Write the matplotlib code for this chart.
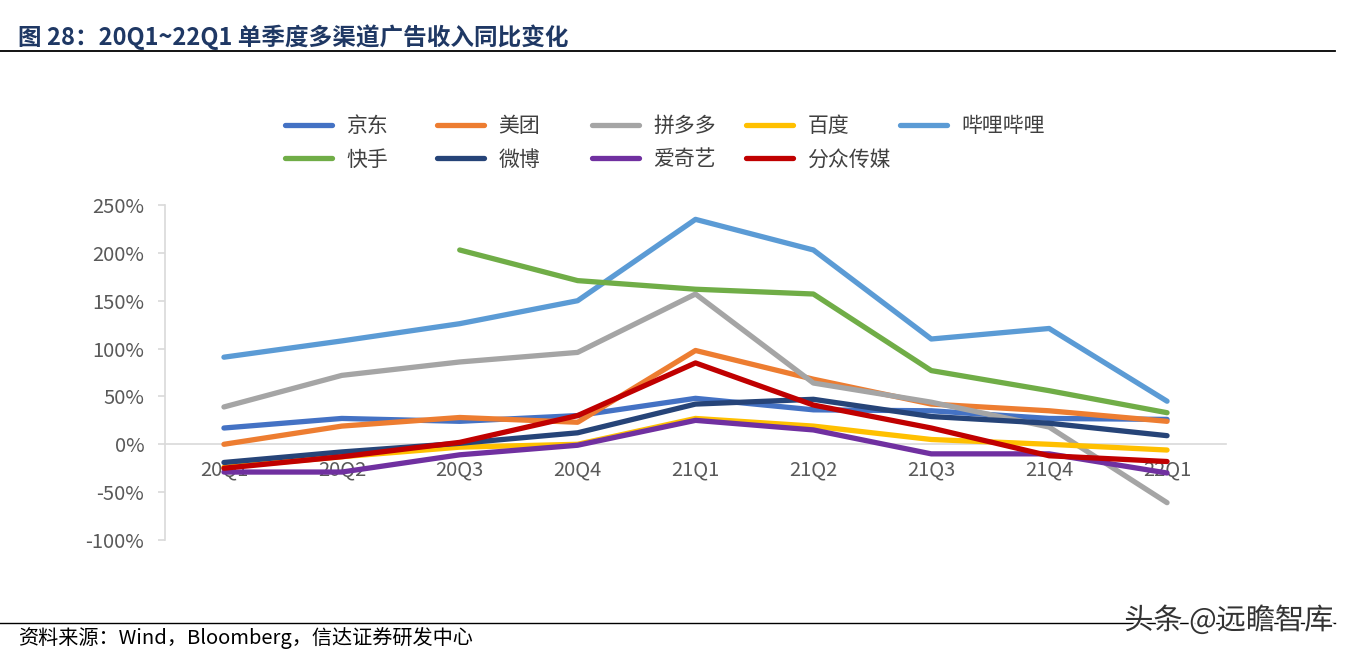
import numpy as np
import matplotlib
matplotlib.use("Agg")
import matplotlib.pyplot as plt
import matplotlib.patheffects as pe
from matplotlib.ticker import FuncFormatter

plt.rcParams['font.family'] = ['Noto Sans CJK SC', 'DejaVu Sans']

# -------------------------------------------------------------
#                   DATA (YoY, %)
# -------------------------------------------------------------
quarters = ["20Q1", "20Q2", "20Q3", "20Q4", "21Q1", "21Q2", "21Q3", "21Q4", "22Q1"]

jd       = [17, 27, 24, 30, 48, 36, 35, 27, 26]
meituan  = [0, 19, 28, 23, 98, 68, 42, 35, 24]
pdd      = [39, 72, 86, 96, 157, 64, 44, 18, -61]
baidu    = [-24, -13, -3, 0, 27, 19, 5, 0, -6]
bilibili = [91, 108, 126, 150, 235, 203, 110, 121, 45]
kuaishou = [np.nan, np.nan, 203, 171, 162, 157, 77, 56, 33]
weibo    = [-19, -8, 1, 12, 42, 47, 29, 22, 9]
iqiyi    = [-29, -29, -11, -1, 25, 15, -10, -10, -30]
focus    = [-25, -13, 2, 30, 85, 41, 17, -12, -18]

series_names = ["京东", "美团", "拼多多", "百度", "哔哩哔哩", "快手", "微博", "爱奇艺", "分众传媒"]
series_vals = [jd, meituan, pdd, baidu, bilibili, kuaishou, weibo, iqiyi, focus]
series_colors = ["#4472C4", "#ED7D31", "#A5A5A5", "#FFC000", "#5B9BD5",
                 "#70AD47", "#264478", "#7030A0", "#C00000"]

# -------------------------------------------------------------
#                   FIGURE
# -------------------------------------------------------------
fig = plt.figure(figsize=(13.5, 6.57), dpi=100)
ax = fig.add_axes([165 / 1350, 1 - 540 / 657, (1226 - 165) / 1350, (540 - 205) / 657])

x = np.arange(len(quarters))
lines = []
for name, vals, col in zip(series_names, series_vals, series_colors):
    ln, = ax.plot(x, vals, color=col, lw=3.8, label=name,
                  solid_capstyle="round", solid_joinstyle="round")
    lines.append(ln)

ax.set_xlim(-0.5, len(quarters) - 0.5)
ax.set_ylim(-100, 250)
ax.set_yticks(np.arange(-100, 251, 50))
ax.yaxis.set_major_formatter(FuncFormatter(lambda v, p: f"{v:.0f}%"))
ax.set_xticks(x)
ax.set_xticklabels(quarters)

for s in ("top", "right"):
    ax.spines[s].set_visible(False)
ax.spines["left"].set_color("#d9d9d9")
ax.spines["left"].set_linewidth(1.2)
ax.spines["bottom"].set_position(("data", 0))
ax.spines["bottom"].set_color("#d9d9d9")
ax.spines["bottom"].set_linewidth(1.2)
ax.spines["bottom"].set_zorder(0)

ax.tick_params(axis="y", colors="#d9d9d9", length=5, width=1.2, labelcolor="#595959",
               labelsize=14.5, pad=10)
ax.tick_params(axis="x", length=0, labelcolor="#595959", labelsize=14.5, pad=11)

# -------------------------------------------------------------
#                   LEGEND (5 equal-width columns)
# -------------------------------------------------------------
col_x = [285, 437, 592, 746, 900]
order = [[0, 5], [1, 6], [2, 7], [3, 8], [4]]
for cx, idx in zip(col_x, order):
    fig.legend([lines[i] for i in idx], [series_names[i] for i in idx],
               loc="upper left", bbox_to_anchor=(cx / 1350, 1 - 115 / 657),
               frameon=False, fontsize=15, handlelength=2.25, handletextpad=0.7,
               labelspacing=0.55, borderpad=0, borderaxespad=0, labelcolor="#404040")

# -------------------------------------------------------------
#                   TITLE / FOOTER
# -------------------------------------------------------------
fig.text(18 / 1350, 1 - 37 / 657, "图 28：20Q1~22Q1 单季度多渠道广告收入同比变化",
         fontsize=17, fontweight="heavy", color="#1F3864", va="center", ha="left")
fig.add_artist(plt.Line2D([0, 1335 / 1350], [1 - 51 / 657] * 2, color="black", lw=1.3))
fig.add_artist(plt.Line2D([0, 1335 / 1350], [1 - 623 / 657] * 2, color="black", lw=1.0))
fig.text(18 / 1350, 1 - 638 / 657, "资料来源：Wind，Bloomberg，信达证券研发中心",
         fontsize=14.5, style="italic", color="black", va="center", ha="left")
fig.text(1333 / 1350, 1 - 621 / 657, "头条 @远瞻智库", fontsize=21, color="#333333",
         va="center", ha="right",
         path_effects=[pe.withStroke(linewidth=3, foreground="white")])

fig.savefig("out.png", dpi=100)
